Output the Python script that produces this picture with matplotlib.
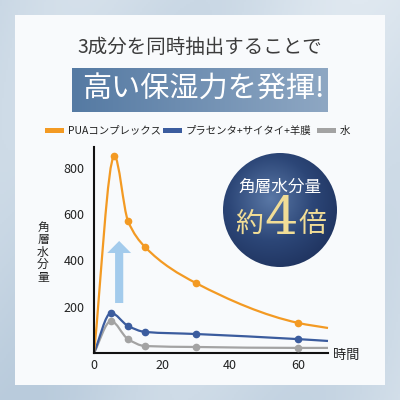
import numpy as np
import matplotlib
matplotlib.use('Agg')
import matplotlib.pyplot as plt
from matplotlib.path import Path
from matplotlib.patches import PathPatch, Rectangle, Circle, FancyArrow

plt.rcParams['font.family'] = ['Noto Sans CJK JP', 'DejaVu Sans']

# data
series_names = ['PUAコンプレックス', 'プラセンタ+サイタイ+羊膜', '水']
series_colors = ['#f39a23', '#3b5c9e', '#a3a3a3']
x_pua = [0, 6, 10, 15, 30, 60, 68.8]
y_pua = [0, 851, 570, 458, 302, 130, 108]
x_pla = [0, 5, 10, 15, 30, 60, 68.8]
y_pla = [0, 173, 117, 91, 82, 60, 52]
x_wat = [0, 5, 10, 15, 30, 60, 68.8]
y_wat = [0, 138, 60, 30, 26, 22, 22]
x_ticks = [0, 20, 40, 60]
y_ticks = [200, 400, 600, 800]


def smooth_path(x, y):
    # monotone cubic through the points, drawn as bezier segments
    x = np.asarray(x, float)
    y = np.asarray(y, float)
    h = np.diff(x)
    d = np.diff(y) / h
    m = np.zeros_like(y)
    for k in range(1, len(x) - 1):
        if d[k - 1] * d[k] > 0:
            w1 = 2 * h[k] + h[k - 1]
            w2 = h[k] + 2 * h[k - 1]
            m[k] = (w1 + w2) / (w1 / d[k - 1] + w2 / d[k])
    m[0] = d[0]
    m[-1] = d[-1]
    verts = [(x[0], y[0])]
    codes = [Path.MOVETO]
    for k in range(len(h)):
        verts += [(x[k] + h[k] / 3, y[k] + m[k] * h[k] / 3),
                  (x[k + 1] - h[k] / 3, y[k + 1] - m[k + 1] * h[k] / 3),
                  (x[k + 1], y[k + 1])]
        codes += [Path.CURVE4] * 3
    return Path(verts, codes)


fig = plt.figure(figsize=(4, 4), dpi=100)

# background, pixel coords
bg = fig.add_axes([0, 0, 1, 1], zorder=0)
bg.set_xlim(0, 400)
bg.set_ylim(400, 0)
bg.axis('off')
gx, gy = np.meshgrid(np.linspace(0, 1, 200), np.linspace(0, 1, 200))
bgimg = 0.5 + 0.3 * gx - 0.2 * gy + 0.15 * np.sin(gx * 9 + gy * 4)
bg.imshow(bgimg, extent=[0, 400, 400, 0], cmap=matplotlib.colors.LinearSegmentedColormap.from_list(
    'ice', ['#b9cbdc', '#dfe8f0']), aspect='auto', zorder=0)
bg.add_patch(Rectangle((15, 15), 370, 370, facecolor='#f8fafc', edgecolor='none', zorder=1))

# banner
grad = np.linspace(0, 1, 100).reshape(1, -1)
bg.imshow(grad, extent=[72, 328, 112, 68], cmap=matplotlib.colors.LinearSegmentedColormap.from_list(
    'ban', ['#557aa3', '#8ea7c3']), aspect='auto', zorder=2)
bg.text(200, 47, '3成分を同時抽出することで', fontsize=14, color='#3c3c3c', ha='center', va='center', zorder=3)
bg.text(203, 90, '高い保湿力を発揮!', fontsize=21, color='white', ha='center', va='center', zorder=3)

# legend
leg_x = [45, 163, 317]
for lx, name, col in zip(leg_x, series_names, series_colors):
    bg.add_patch(Rectangle((lx, 128), 19, 5, facecolor=col, edgecolor='none', zorder=3))
    bg.text(lx + 23, 130.5, name, fontsize=7.5, color='#222222', ha='left', va='center', zorder=3)

# badge circle
cx, cy, r = 280, 210, 57
yy, xx = np.mgrid[0:1:200j, 0:1:200j]
rad = np.sqrt((xx - 0.42) ** 2 + (yy - 0.4) ** 2)
im = bg.imshow(rad, extent=[cx - r, cx + r, cy + r, cy - r], cmap=matplotlib.colors.LinearSegmentedColormap.from_list(
    'navy', ['#5a78a6', '#2c4677', '#1b2d57']), vmin=0, vmax=0.75, aspect='auto', zorder=2)
im.set_clip_path(Circle((cx, cy), r, transform=bg.transData))
bg.text(cx, 187, '角層水分量', fontsize=12, color='white', ha='center', va='center', zorder=3)
bg.text(249, 224, '約', fontsize=20, color='#f1dd96', ha='center', va='center', zorder=3)
bg.text(281, 220, '4', fontsize=38, color='#f1dd96', ha='center', va='center', zorder=3,
        family='DejaVu Serif')
bg.text(312, 224, '倍', fontsize=20, color='#f1dd96', ha='center', va='center', zorder=3)

# chart
ax = fig.add_axes([94 / 400, 1 - 353 / 400, 234 / 400, 206 / 400], zorder=1)
ax.patch.set_alpha(0)
ax.set_xlim(0, 68.8)
ax.set_ylim(0, 890)
for s in ['top', 'right']:
    ax.spines[s].set_visible(False)
for s in ['left', 'bottom']:
    ax.spines[s].set_linewidth(1.5)
    ax.spines[s].set_color('#111111')
ax.set_xticks(x_ticks)
ax.set_yticks(y_ticks)
ax.tick_params(length=0, labelsize=9, colors='#222222')
ax.tick_params(axis='y', pad=7)
ax.tick_params(axis='x', pad=4)

ax.add_patch(FancyArrow(7.4, 216, 0, 268, width=2.4, head_width=7, head_length=52,
                        length_includes_head=True, facecolor='#a3cbec', edgecolor='none', zorder=1))

for xs, ys, col in [(x_wat, y_wat, series_colors[2]), (x_pla, y_pla, series_colors[1]),
                    (x_pua, y_pua, series_colors[0])]:
    ax.add_patch(PathPatch(smooth_path(xs, ys), facecolor='none', edgecolor=col, lw=1.6,
                           zorder=2, clip_on=False))
    ax.plot(xs[1:-1], ys[1:-1], 'o', color=col, markersize=4.5, zorder=3, clip_on=False)

fig.text(43 / 400, 1 - 252 / 400, '\n'.join('角層水分量'), fontsize=8.5, color='#222222',
         ha='center', va='center', linespacing=0.95)
fig.text(346 / 400, 1 - 356 / 400, '時間', fontsize=9.5, color='#222222', ha='center', va='center')

fig.savefig('out.png', dpi=100)
